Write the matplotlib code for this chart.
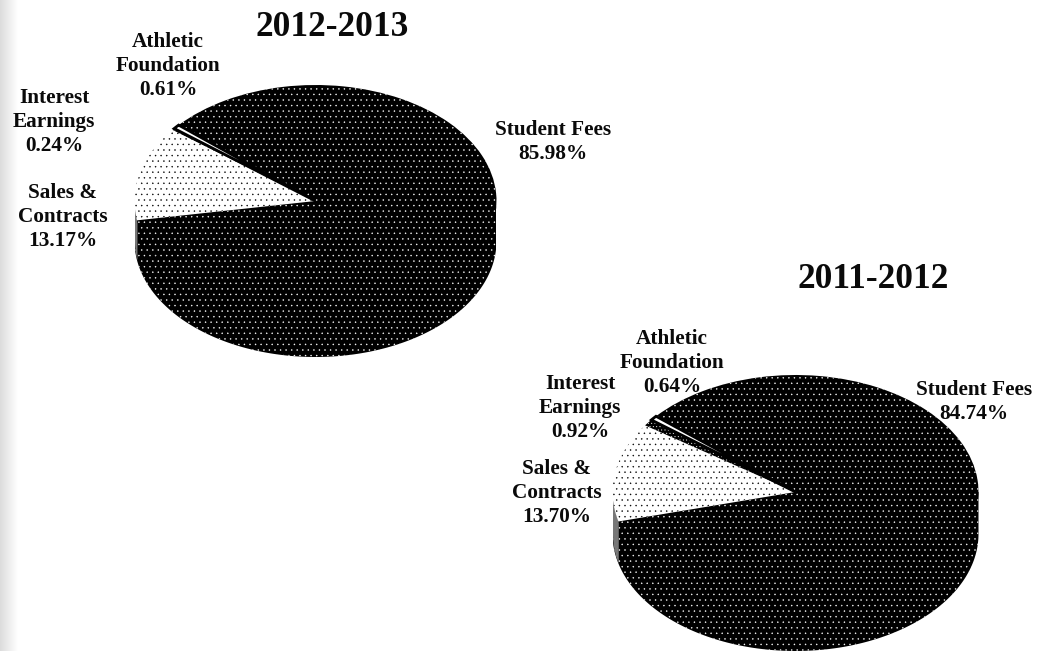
import numpy as np
import matplotlib
matplotlib.use("Agg")
import matplotlib.pyplot as plt

W, H = 1044, 651
titles = ["2012-2013", "2011-2012"]
categories = ["Student Fees", "Athletic\nFoundation", "Interest\nEarnings", "Sales &\nContracts"]
values_2012 = [85.98, 0.61, 0.24, 13.17]
values_2011 = [84.74, 0.64, 0.92, 13.70]
start_angles = [189.6, 194.6]

plt.rcParams["font.family"] = ["Liberation Serif", "DejaVu Serif"]
plt.rcParams["hatch.linewidth"] = 0.28

fig = plt.figure(figsize=(W / 100, H / 100), dpi=100, facecolor="white")


def px_axes(x0, y0, x1, y1):
    return fig.add_axes([x0 / W, 1 - y1 / H, (x1 - x0) / W, (y1 - y0) / H])


# soft page shadow on the left edge
bg = px_axes(0, 0, 18, H)
bg.imshow(np.linspace(0.86, 1.0, 64)[None, :], aspect="auto", cmap="gray", vmin=0, vmax=1)
bg.axis("off")


def draw_pie(values, start, cx, cy, rx, ry, depth, gray_w):
    ax = px_axes(cx - rx, cy - ry, cx + rx, cy + ry + depth)
    ax.set_zorder(2)
    d = depth / ry
    t = np.linspace(np.pi, 2 * np.pi, 400)
    x, y = np.cos(t), np.sin(t)
    ax.fill_between(x, y - d, 0, facecolor="black", edgecolor="white", hatch="...", linewidth=0)
    split = -1 + gray_w / rx
    m = x <= split
    ax.fill_between(x[m], y[m] - d, y[m], color="#777777", linewidth=0)
    wedges, _ = ax.pie(values, startangle=start, counterclock=True, radius=1)
    for w, val in zip(wedges, ["fees", "ath", "int", "sales"]):
        if val == "fees":
            w.set(facecolor="black", edgecolor="white", hatch="...", linewidth=0)
        elif val == "ath":
            w.set(facecolor="white", edgecolor="black", linewidth=2.0, zorder=4)
        elif val == "int":
            w.set(facecolor="black", edgecolor="white", hatch=".....", linewidth=0, zorder=3)
        else:
            w.set(facecolor="white", edgecolor="black", hatch="...", linewidth=0)
    ax.set_aspect("auto")
    ax.set_xlim(-1, 1)
    ax.set_ylim(-1 - d, 1)
    ax.axis("off")


draw_pie(values_2012, start_angles[0], 315.5, 201, 181, 116, 40, 2.5)
draw_pie(values_2011, start_angles[1], 795.5, 492, 183, 117, 42, 6)


def label(x, y, s, size=15.3):
    fig.text(x / W, 1 - y / H, s, ha="center", va="center", ma="center", fontsize=size,
             fontweight="bold", color="#0a0a0a", linespacing=1.25, zorder=5)


label(332, 27, titles[0], 25.5)
label(873, 279, titles[1], 25.5)

label(553, 142, f"{categories[0]}\n{values_2012[0]:.2f}%")
label(168, 66, f"{categories[1]}\n{values_2012[1]:.2f}%")
label(54, 122, f"{categories[2]}\n{values_2012[2]:.2f}%")
label(63, 217, f"{categories[3]}\n{values_2012[3]:.2f}%")

label(974, 402, f"{categories[0]}\n{values_2011[0]:.2f}%")
label(672, 363, f"{categories[1]}\n{values_2011[1]:.2f}%")
label(580, 408, f"{categories[2]}\n{values_2011[2]:.2f}%")
label(557, 493, f"{categories[3]}\n{values_2011[3]:.2f}%")

fig.savefig("out.png", dpi=100)
